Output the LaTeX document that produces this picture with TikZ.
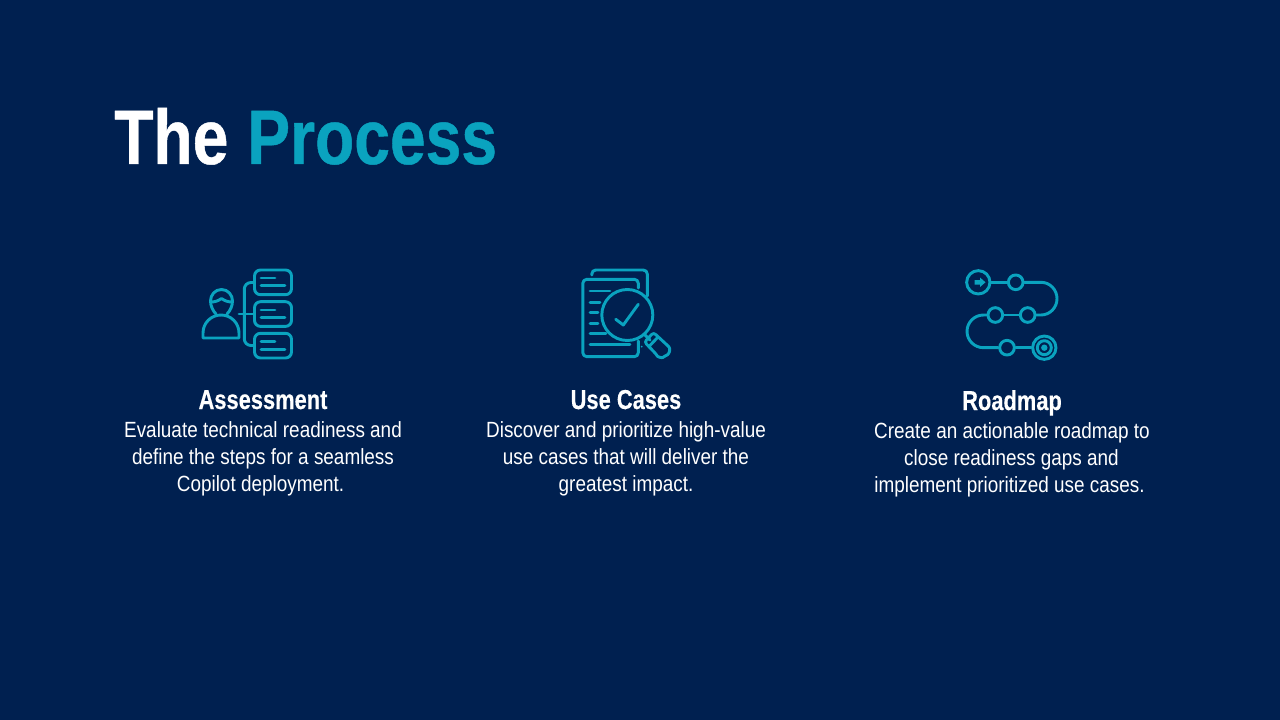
\documentclass[tikz,border=0pt]{standalone}
\usepackage{fontspec}
\newfontfamily\bodyfont{Liberation Sans}[FakeStretch=0.86]
\newfontfamily\headfont{Liberation Sans Bold}[FakeStretch=0.83,FakeBold=0.6]
\newfontfamily\subfont{Liberation Sans Bold}[FakeStretch=0.80,FakeBold=0.3]
\definecolor{bgnavy}{HTML}{002050}
\definecolor{teal}{HTML}{0AA3BF}
\tikzset{
  x=0.75pt,y=-0.75pt,
  icon/.style={draw=teal,line width=2.2pt,line cap=round,line join=round},
  title/.style={anchor=base west,inner sep=0,font=\headfont\fontsize{58}{60}\selectfont},
  heading/.style={anchor=base,inner sep=0,text=white,font=\subfont\fontsize{20.5}{24}\selectfont},
  bodyline/.style={anchor=base,inner sep=0,text=white,font=\bodyfont\fontsize{16.5}{20}\selectfont},
}
\begin{document}
\begin{tikzpicture}
\fill[bgnavy] (0,0) rectangle (1280,720);
\useasboundingbox (0,0) rectangle (1280,720);
\node[title,text=white] (t1) at (114,164) {The};
\node[title,text=teal] (t2) at (247,164) {Process};
% Column 1
\node[heading] (h1) at (263,409) {Assessment};
\node[bodyline] (a1) at (263,437) {Evaluate technical readiness and};
\node[bodyline] (a2) at (263,464) {define the steps for a seamless};
\node[bodyline] (a3) at (260.5,491) {Copilot deployment.};
% Column 2
\node[heading] (h2) at (626,409) {Use Cases};
\node[bodyline] (b1) at (626,437) {Discover and prioritize high-value};
\node[bodyline] (b2) at (626,464) {use cases that will deliver the};
\node[bodyline] (b3) at (626,491) {greatest impact.};
% Column 3
\node[heading] (h3) at (1012,410) {Roadmap};
\node[bodyline] (c1) at (1012,438) {Create an actionable roadmap to};
\node[bodyline] (c2) at (1011.5,465) {close readiness gaps and};
\node[bodyline] (c3) at (1009.5,492) {implement prioritized use cases.};
% Icon 1
\foreach \ya/\l in {270/278,301.7/310,333.3/341.7}{
  \draw[icon,rounded corners=4.5pt] (254.5,\ya) rectangle (291.5,\ya+24.7);
  \draw[icon] (261,\l) -- (275,\l);
  \draw[icon] (261,\l+7.6) -- (285,\l+7.6);
}
\draw[icon,rounded corners=5pt] (254.5,282.5) -- (244.3,282.5) -- (244.3,345.5) -- (254.5,345.5);
\draw[icon] (239,314) -- (254.5,314);
\draw[icon] (216,314) .. controls (213,311) and (210.5,306) .. (210.5,301) .. controls (210.5,295) and (215,289.5) .. (221.5,289.5) .. controls (228,289.5) and (232.5,295) .. (232.5,301) .. controls (232.5,306) and (230,311) .. (227,314);
\draw[icon] (210.5,302) .. controls (215,302) and (218,301) .. (221.5,298.5) .. controls (225,301) and (228,302) .. (232.5,302);
\draw[icon] (203,338) -- (239,338) -- (239,333) .. controls (239,323) and (231,315) .. (221,315) .. controls (211,315) and (203,323) .. (203,333) -- cycle;
% Icon 2
\draw[icon,rounded corners=3pt] (591.8,275) -- (591.8,270) -- (647.3,270) -- (647.3,296);
\draw[icon,rounded corners=3pt] (638.3,288) -- (638.3,279.3) -- (582.8,279.3) -- (582.8,356.7) -- (638.3,356.7) -- (638.3,341);
\foreach \ya/\xe in {291/610,302.3/600,312.7/598,323.3/598,333.7/606,344.3/630}{
  \draw[icon] (590,\ya) -- (\xe,\ya);
}
\draw[icon] (627.3,315) circle[radius=25.5];
\draw[icon] (615.7,319.3) -- (623.3,325) -- (638.3,304.3);
\draw[icon] (645,335) -- (650,340);
\draw[icon,rounded corners=2pt] (644.5,342) -- (653.5,332.5) -- (667,345) .. controls (671,349) and (669,354) .. (665,356) .. controls (662,358) and (658,357) .. (656,354) -- cycle;
\draw[icon] (649,346.5) -- (658,337);
\fill[teal] (641.7,346.7) circle[radius=1];
% Icon 3
\node[icon,circle,minimum size=17.5pt,inner sep=0] (r0) at (978.3,282.3) {};
\node[icon,circle,minimum size=11pt,inner sep=0] (r1) at (1015.7,282.3) {};
\node[icon,circle,minimum size=11pt,inner sep=0] (r2) at (1027.7,315) {};
\node[icon,circle,minimum size=11pt,inner sep=0] (r3) at (995.3,315) {};
\node[icon,circle,minimum size=11pt,inner sep=0] (r4) at (1007,347.7) {};
\node[icon,circle,minimum size=17.5pt,inner sep=0] (r5) at (1044.3,347.7) {};
\draw[icon] (1044.3,347.7) circle[radius=7];
\fill[teal] (1044.3,347.7) circle[radius=3.2];
\fill[teal] (974.5,280) -- (980,280) -- (980,277.5) -- (985.5,282.3) -- (980,287) -- (980,284.6) -- (974.5,284.6) -- cycle;
\draw[icon] (r0) -- (r1);
\draw[icon] (r2) -- (r3);
\draw[icon] (r4) -- (r5);
\draw[icon] (r1.east) -- (1041,282.3) arc[start angle=-90,end angle=90,x radius=16,y radius=16.35] -- (r2.east);
\draw[icon] (r3.west) -- (983.5,315) arc[start angle=270,end angle=90,x radius=16.5,y radius=16.35] -- (r4.west);
\end{tikzpicture}
\end{document}
